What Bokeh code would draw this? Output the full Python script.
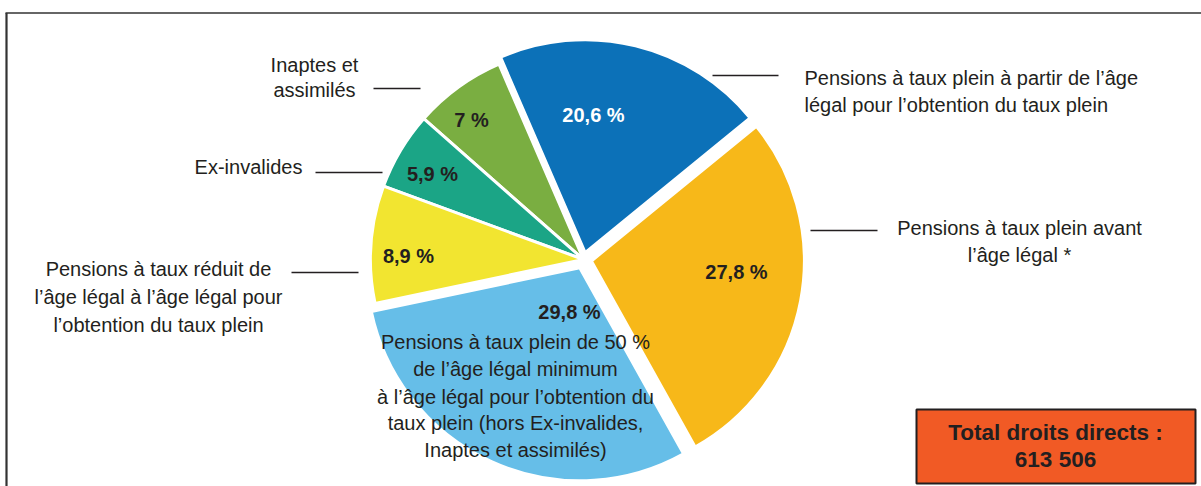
import math
from bokeh.plotting import figure
from bokeh.models import ColumnDataSource, Range1d
from bokeh.embed import file_html
from bokeh.resources import INLINE
from bokeh.core.properties import value

# ---------------- data ----------------
categories = [
    "Pensions à taux plein à partir de l'âge légal pour l'obtention du taux plein",
    "Inaptes et assimilés",
    "Ex-invalides",
    "Pensions à taux réduit de l'âge légal à l'âge légal pour l'obtention du taux plein",
    "Pensions à taux plein de 50 % de l'âge légal minimum à l'âge légal pour l'obtention du taux plein (hors Ex-invalides, Inaptes et assimilés)",
    "Pensions à taux plein avant l'âge légal *",
]
shares = [20.6, 7.0, 5.9, 8.9, 29.8, 27.8]
total_label = "Total droits directs :"
total_value = "613 506"

# ---------------- style ----------------
colors = ["#0c71b8", "#7aae41", "#1ba586", "#f2e530", "#66bee8", "#f7b819"]
explode = [7, 0, 0, 0, 9, 8]
pct_colors = ["#ffffff", "#231f20", "#231f20", "#231f20", "#231f20", "#231f20"]
pct_pos = [(593, 114), (471, 119), (432, 173), (408, 255), (569, 311), (736, 271)]

label_lines = [
    (["Pensions à taux plein à partir de l’âge", "légal pour l’obtention du taux plein"], 804, [77, 104], "left"),
    (["Inaptes et", "assimilés"], 314, [64, 89], "center"),
    (["Ex-invalides"], 248, [166], "center"),
    (["Pensions à taux réduit de", "l’âge légal à l’âge légal pour", "l’obtention du taux plein"], 158, [268, 296, 324], "center"),
    (["Pensions à taux plein de 50 %", "de l’âge légal minimum", "à l’âge légal pour l’obtention du",
      "taux plein (hors Ex-invalides,", "Inaptes et assimilés)"], 515, [341, 368, 396, 422, 449], "center"),
    (["Pensions à taux plein avant", "l’âge légal *"], 1019, [227, 254], "center"),
]
leaders = [(712, 778, 75), (373, 420, 88), (315, 382, 172), (291, 358, 272), None, (810, 877, 230)]

W, H = 1201, 486
CX, CY, R = 583, -259, 213
START = 39.24

FONT = value("Liberation Sans")
DARK = "#231f20"

p = figure(width=W, height=H, x_range=Range1d(0, W), y_range=Range1d(-H, 0),
           output_backend="svg", toolbar_location=None, min_border=0,
           x_axis_type=None, y_axis_type=None)
p.grid.visible = False
p.outline_line_color = None
p.background_fill_color = "white"
p.border_fill_color = "white"

# frame
p.segment(x0=[5], y0=[-12.5], x1=[1201], y1=[-12.5], line_color="#333333", line_width=1.6)
p.segment(x0=[6], y0=[-12.5], x1=[6], y1=[-486], line_color="#333333", line_width=2.2)

# pie
tot = sum(shares)
starts, ends, xs, ys = [], [], [], []
a = START
for v, e in zip(shares, explode):
    span = v / tot * 360.0
    s, t = a, a + span
    mid = math.radians((s + t) / 2)
    starts.append(math.radians(s))
    ends.append(math.radians(t))
    xs.append(CX + e * math.cos(mid))
    ys.append(CY + e * math.sin(mid))
    a = t

src = ColumnDataSource(dict(x=xs, y=ys, start=starts, end=ends, color=colors, cat=categories, share=shares))
p.wedge(x="x", y="y", radius=R, start_angle="start", end_angle="end", fill_color="color",
        line_color="white", line_width=3, source=src)

# percentage labels
def fmt(v):
    if abs(v - round(v)) < 1e-9:
        return f"{int(round(v))} %"
    return f"{v:.1f}".replace(".", ",") + " %"

p.text(x=[q[0] for q in pct_pos], y=[-q[1] for q in pct_pos], text=[fmt(v) for v in shares],
       text_font=FONT, text_font_size="20px", text_font_style="bold", text_color=pct_colors,
       text_align="center", text_baseline="middle")

# category labels
for (lines, lx, lys, align), ld in zip(label_lines, leaders):
    p.text(x=[lx] * len(lines), y=[-yy for yy in lys], text=lines, text_font=FONT,
           text_font_size="20px", text_color=DARK, text_align=align, text_baseline="middle")
    if ld is not None:
        p.segment(x0=[ld[0]], y0=[-ld[2]], x1=[ld[1]], y1=[-ld[2]], line_color=DARK, line_width=1.3)

# total box
p.quad(left=[916], right=[1195], top=[-409], bottom=[-483], fill_color="#f15a25",
       line_color=DARK, line_width=2)
p.text(x=[1055, 1055], y=[-432, -459], text=[total_label, total_value], text_font=FONT,
       text_font_size="22.5px", text_font_style="bold", text_color=DARK,
       text_align="center", text_baseline="middle")

open("out.html", "w").write(file_html(p, INLINE))
